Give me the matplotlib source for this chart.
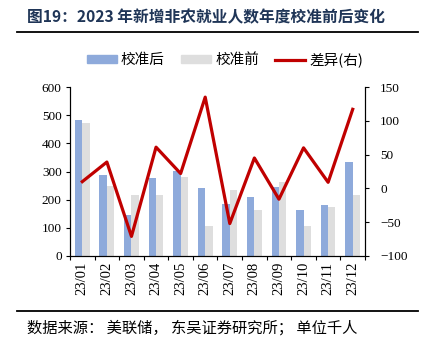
import numpy as np
import matplotlib
matplotlib.use("Agg")
from matplotlib import pyplot as plt
from matplotlib.lines import Line2D
from matplotlib.patches import Patch

plt.rcParams["font.family"] = ["Noto Sans CJK SC", "DejaVu Sans"]

months = ["23/01", "23/02", "23/03", "23/04", "23/05", "23/06",
          "23/07", "23/08", "23/09", "23/10", "23/11", "23/12"]
revised = [482, 287, 146, 278, 303, 240, 184, 210, 246, 165, 182, 333]   # 校准后
original = [472, 248, 217, 217, 281, 105, 236, 165, 262, 105, 173, 216]  # 校准前
diff = [10, 39, -71, 61, 22, 135, -52, 45, -16, 60, 9, 117]              # 差异(右)

BLUE = "#8EAADB"
GRAY = "#DEDEDE"
RED = "#C00000"
NAVY = "#1F3557"
serif = ["Liberation Serif", "DejaVu Serif"]

W, H = 422, 352
fig = plt.figure(figsize=(W / 100, H / 100), dpi=100)

# title, rules and source note
fig.text(27 / W, 1 - 17 / H, "图19：2023 年新增非农就业人数年度校准前后变化",
         fontsize=11.3, fontweight="bold", color=NAVY, va="center", ha="left")
fig.add_artist(Line2D([17 / W, 418 / W], [1 - 32 / H, 1 - 32 / H],
                      transform=fig.transFigure, color="black", lw=1.3))
fig.add_artist(Line2D([17 / W, 418 / W], [1 - 311 / H, 1 - 311 / H],
                      transform=fig.transFigure, color="black", lw=1.3))
fig.text(27 / W, 1 - 328 / H, "数据来源： 美联储， 东吴证券研究所； 单位千人",
         fontsize=11, color="black", va="center", ha="left")

ax = fig.add_axes([70 / W, 1 - 256 / H, 295 / W, (256 - 87) / H])
x = np.arange(len(months))
w = 0.3
ax.bar(x - w, revised, w, align="edge", color=BLUE, zorder=2)
ax.bar(x, original, w, align="edge", color=GRAY, zorder=2)
ax.set_xlim(-0.5, len(months) - 0.5)
ax.set_ylim(0, 600)
ax.set_yticks(np.arange(0, 601, 100))
ax.set_xticks(np.append(x - 0.5, len(months) - 0.5))
ax.set_xticklabels([])
ax.set_xticks(x, minor=True)
ax.set_xticklabels(months, minor=True, rotation=90, fontsize=10.5, family=serif)
ax.tick_params(axis="x", which="minor", length=0, pad=4)
ax.tick_params(axis="x", which="major", length=3, direction="out")
ax.tick_params(axis="y", length=3, direction="out", labelsize=9.5, pad=3)
for lab in ax.get_yticklabels():
    lab.set_family(serif)
ax.spines["top"].set_visible(False)

ax2 = ax.twinx()
ax2.plot(x, diff, color=RED, lw=2.3, zorder=3)
ax2.set_ylim(-100, 150)
ax2.set_yticks(np.arange(-100, 151, 50))
ax2.tick_params(axis="y", length=3, direction="out", labelsize=9.5, pad=8)
for lab in ax2.get_yticklabels():
    lab.set_family(serif)
ax2.spines["top"].set_visible(False)
for a in (ax, ax2):
    for s in a.spines.values():
        s.set_linewidth(0.8)

handles = [Patch(color=BLUE), Patch(color=GRAY), Line2D([], [], color=RED, lw=2.3)]
fig.legend(handles, ["校准后", "校准前", "差异(右)"], ncol=3, frameon=False,
           loc="center", bbox_to_anchor=(225 / W, 1 - 60 / H), fontsize=10.5,
           handlelength=2.05, handleheight=0.45, columnspacing=1.1,
           handletextpad=0.3, borderpad=0.2)

fig.savefig("out.png", dpi=100)
